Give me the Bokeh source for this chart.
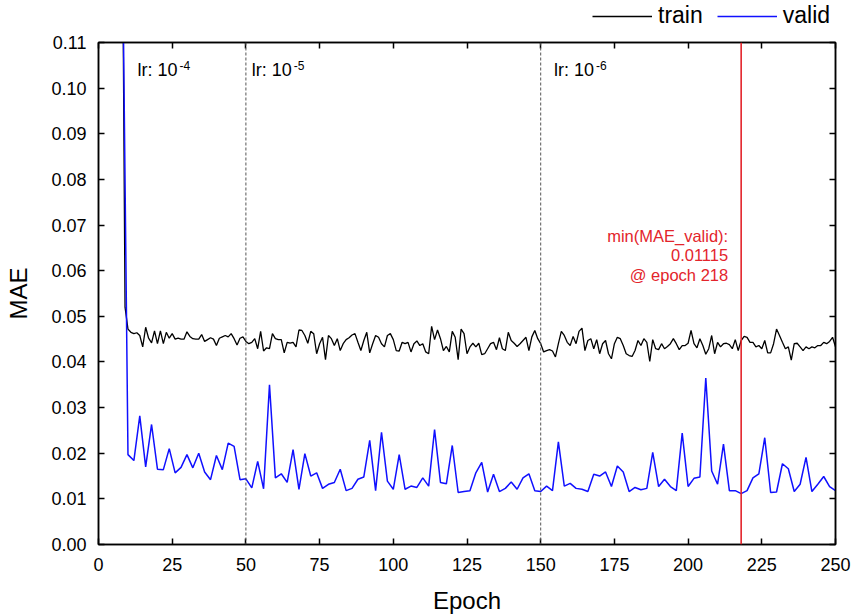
from bokeh.plotting import figure
from bokeh.layouts import column
from bokeh.models import (Span, Label, Legend, LegendItem, LinearAxis, FixedTicker,
                          NumeralTickFormatter, CustomJSTickFormatter)
from bokeh.embed import file_html
from bokeh.resources import INLINE

# ---------------- data ----------------
train_start = 8
train_mae = [
    0.150, 0.052,
    0.0472, 0.0465, 0.0462, 0.0464, 0.0458, 0.0433, 0.0476, 0.0452, 0.0442, 0.0468,
    0.0440, 0.0468, 0.0440, 0.0465, 0.0452, 0.0462, 0.0450, 0.0452, 0.0450, 0.0450,
    0.0466, 0.0456, 0.0451, 0.0450, 0.0450, 0.0460, 0.0445, 0.0449, 0.0453, 0.0450,
    0.0436, 0.0452, 0.0455, 0.0458, 0.0455, 0.0462, 0.0451, 0.0437, 0.0452, 0.0455,
    0.0445,
    0.0440, 0.0443, 0.0451, 0.0429, 0.0467, 0.0424, 0.0431, 0.0429, 0.0462,
    0.0451, 0.0449, 0.0449, 0.0420, 0.0443, 0.0441, 0.0443, 0.0433, 0.0470, 0.0469,
    0.0458, 0.0441, 0.0467, 0.0462, 0.0418, 0.0440, 0.0454, 0.0405, 0.0458, 0.0451,
    0.0436, 0.0451, 0.0425, 0.0440, 0.0449, 0.0453, 0.0459, 0.0462, 0.0443, 0.0425,
    0.0447, 0.0465, 0.0420, 0.0440, 0.0458, 0.0454, 0.0440, 0.0433, 0.0458, 0.0462,
    0.0449, 0.0425, 0.0424, 0.0443, 0.0440, 0.0443, 0.0422, 0.0440, 0.0446, 0.0436,
    0.0440, 0.0422, 0.0418, 0.0478, 0.0449, 0.0470, 0.0451, 0.0425, 0.0434, 0.0422,
    0.0467, 0.0454, 0.0405, 0.0472, 0.0462, 0.0418, 0.0433, 0.0441, 0.0433, 0.0441,
    0.0416, 0.0418, 0.0429, 0.0440, 0.0443, 0.0427, 0.0453, 0.0429, 0.0425, 0.0465,
    0.0447, 0.0441, 0.0434, 0.0440, 0.0447, 0.0454, 0.0425, 0.0455, 0.0469, 0.0451,
    0.0440, 0.0422, 0.0425, 0.0427, 0.0424, 0.0411, 0.0440, 0.0467, 0.0458, 0.0443,
    0.0436, 0.0456, 0.0440, 0.0467, 0.0474, 0.0425, 0.0447, 0.0451, 0.0429, 0.0449,
    0.0418, 0.0440, 0.0447, 0.0418, 0.0407, 0.0440, 0.0454, 0.0451, 0.0436, 0.0418,
    0.0414, 0.0412, 0.0425, 0.0447, 0.0436, 0.0451, 0.0443, 0.0401, 0.0449, 0.0429,
    0.0427, 0.0440, 0.0429, 0.0434, 0.0440, 0.0451, 0.0440, 0.0427, 0.0436, 0.0436,
    0.0441, 0.0469, 0.0440, 0.0431, 0.0451, 0.0436, 0.0417, 0.0429, 0.0458, 0.0418,
    0.0443, 0.0433, 0.0440, 0.0441, 0.0438, 0.0429, 0.0449, 0.0425, 0.0447, 0.0456,
    0.0454, 0.0443, 0.0443, 0.0433, 0.0436, 0.0429, 0.0447, 0.0420, 0.0420, 0.0440,
    0.0472, 0.0458, 0.0443, 0.0429, 0.0433, 0.0404, 0.0440, 0.0441, 0.0433, 0.0425,
    0.0433, 0.0429, 0.0433, 0.0431, 0.0436, 0.0436, 0.0443, 0.0440, 0.0445, 0.0454, 0.0433,
]
train_epoch = list(range(train_start, train_start + len(train_mae)))

valid_start = 8
valid_step = 2
valid_mae = [
    0.140, 0.0197, 0.0184, 0.0282, 0.0170, 0.0263, 0.0165, 0.0164, 0.0210, 0.0157,
    0.0169, 0.0197, 0.0168, 0.0200, 0.0159, 0.0142, 0.0195, 0.0164, 0.0222, 0.0215,
    0.0142, 0.0144, 0.0124, 0.0182, 0.0122, 0.0350, 0.0146, 0.0155, 0.0136, 0.0208,
    0.0121, 0.0199, 0.0150, 0.0157, 0.0123, 0.0132, 0.0136, 0.0165, 0.0118, 0.0123,
    0.0143, 0.0148, 0.0228, 0.0118, 0.0246, 0.0139, 0.0121, 0.0197, 0.0121, 0.0128,
    0.0125, 0.0146, 0.0128, 0.0252, 0.0136, 0.0133, 0.0217, 0.0114, 0.0116, 0.0118,
    0.0157, 0.0180, 0.0115, 0.0154, 0.0116, 0.0123, 0.0137, 0.0121, 0.0146, 0.0155,
    0.0118, 0.0116, 0.0128, 0.0118, 0.0225, 0.0128, 0.0134, 0.0123, 0.0121, 0.0116,
    0.0154, 0.0150, 0.0159, 0.0127, 0.0172, 0.0159, 0.0116, 0.0125, 0.0120, 0.0123,
    0.0202, 0.0127, 0.0143, 0.0127, 0.0118, 0.0244, 0.0127, 0.0145, 0.0148, 0.0365,
    0.0161, 0.0132, 0.0220, 0.0118, 0.0118, 0.01115, 0.0118, 0.0146, 0.0155, 0.0234,
    0.0114, 0.0115, 0.0177, 0.0166, 0.0116, 0.0132, 0.0191, 0.0116, 0.0132, 0.0149,
    0.0127, 0.0118,
]
valid_epoch = [valid_start + valid_step * i for i in range(len(valid_mae))]

series_names = ["train", "valid"]
series_colors = ["black", "#1010ff"]
series_x = [train_epoch, valid_epoch]
series_y = [train_mae, valid_mae]

lr_change_epochs = [50, 150]
lr_labels = [("lr: 10", "-4", 13.2), ("lr: 10", "-5", 52.0), ("lr: 10", "-6", 154.5)]
best_epoch = 218
best_value = 0.01115

x_ticks = [0, 25, 50, 75, 100, 125, 150, 175, 200, 225, 250]
y_ticks = [0.00, 0.01, 0.02, 0.03, 0.04, 0.05, 0.06, 0.07, 0.08, 0.09, 0.10, 0.11]

FONT = "Liberation Sans"
W = 854
LEG_H = 30

# ---------------- legend strip (above the plot) ----------------
# the series are drawn here only to carry legend glyphs; the strip's y-range
# lies far above the data so the lines themselves are not visible in it
leg = figure(width=W, height=LEG_H, x_range=(0, 250), y_range=(10, 11),
             output_backend="svg", toolbar_location=None,
             x_axis_location=None, y_axis_location=None, min_border=0)
leg.grid.visible = False
leg.outline_line_color = None
leg_items = []
for name, col, xs, ys in zip(series_names, series_colors, series_x, series_y):
    rr = leg.line(xs, ys, line_color=col, line_width=1.5)
    leg_items.append(LegendItem(label=name, renderers=[rr]))
legend = Legend(items=leg_items, orientation="horizontal", location=(494, 1),
                label_text_font=FONT, label_text_font_size="23px",
                label_text_color="black",
                glyph_width=60, glyph_height=22, label_standoff=6, spacing=14,
                padding=0, margin=0, border_line_color=None,
                background_fill_alpha=0, label_height=22)
leg.add_layout(legend, "center")

# ---------------- main figure ----------------
p = figure(width=W, height=616 - LEG_H, x_range=(0, 250), y_range=(0, 0.11),
           output_backend="svg", toolbar_location=None,
           min_border_left=98, min_border_right=19, min_border_top=42 - LEG_H,
           min_border_bottom=71)
p.grid.visible = False
p.outline_line_color = "black"
p.outline_line_width = 1.5
p.background_fill_color = "white"
p.border_fill_color = "white"

def style_axis(ax, show_labels=True):
    ax.axis_line_width = 1.5
    ax.axis_line_color = "black"
    ax.major_tick_in = 6
    ax.major_tick_out = 0
    ax.major_tick_line_width = 1.5
    ax.minor_tick_line_color = None
    ax.major_label_text_font = FONT
    ax.major_label_text_color = "black"
    if show_labels:
        ax.major_label_text_font_size = "18px"
        ax.major_label_standoff = 13
    else:
        ax.formatter = CustomJSTickFormatter(code="return ''")
        ax.major_label_text_font_size = "1px"
        ax.major_label_standoff = 0

xa = p.xaxis[0]
ya = p.yaxis[0]
xa.ticker = FixedTicker(ticks=x_ticks)
ya.ticker = FixedTicker(ticks=y_ticks)
ya.formatter = NumeralTickFormatter(format="0.00")
style_axis(xa)
style_axis(ya)
ya.major_label_standoff = 12
xa.axis_label = "Epoch"
ya.axis_label = "MAE"
for ax in (xa, ya):
    ax.axis_label_text_font = FONT
    ax.axis_label_text_font_size = "24px"
    ax.axis_label_text_font_style = "normal"
    ax.axis_label_text_color = "black"
xa.axis_label_standoff = 13
ya.axis_label_standoff = 16

top = LinearAxis(ticker=FixedTicker(ticks=x_ticks))
right = LinearAxis(ticker=FixedTicker(ticks=y_ticks))
style_axis(top, False)
style_axis(right, False)
p.add_layout(top, "above")
p.add_layout(right, "right")

# ---------------- lines ----------------
p.line(train_epoch, train_mae, line_color=series_colors[0], line_width=1.3)
p.line(valid_epoch, valid_mae, line_color=series_colors[1], line_width=1.5)

for e in lr_change_epochs:
    p.add_layout(Span(location=e, dimension="height", line_color="#555555",
                      line_dash="3 2", line_width=1))
p.add_layout(Span(location=best_epoch, dimension="height", line_color="#e3242b",
                  line_width=1.6))

for main, sup, xe in lr_labels:
    p.add_layout(Label(x=xe, y=0.1040, text=main, text_font=FONT,
                       text_font_size="18px", text_baseline="middle",
                       text_color="black"))
    p.add_layout(Label(x=xe, y=0.1040, x_offset=42, y_offset=4, text=sup,
                       text_font=FONT, text_font_size="12px",
                       text_baseline="middle", text_color="black"))

red_lines = ["min(MAE_valid):", f"{best_value:.5f}", f"@ epoch {best_epoch}"]
for i, t in enumerate(red_lines):
    p.add_layout(Label(x=best_epoch, y=0.0677, x_offset=-13, y_offset=-19.5 * i,
                       text=t, text_font=FONT, text_font_size="16.5px",
                       text_align="right", text_baseline="middle",
                       text_color="#e3242b"))

layout = column(leg, p, spacing=0)
open("out.html", "w").write(file_html(layout, INLINE))
